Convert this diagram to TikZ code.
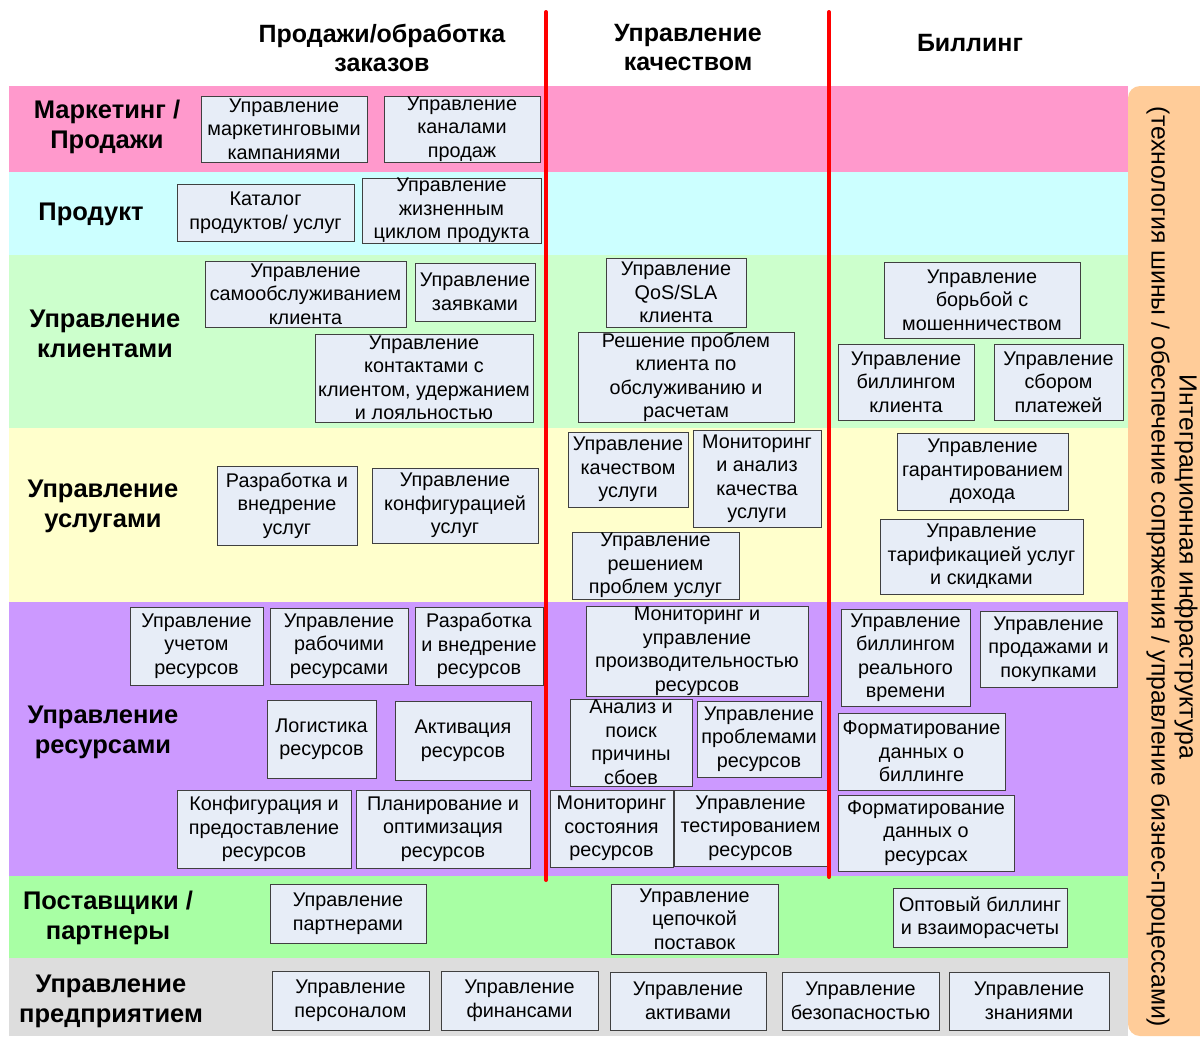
\documentclass[tikz,border=0pt]{standalone}
\usepackage{fontspec}
\setmainfont{Liberation Sans}
\usepackage{tikz}
\usetikzlibrary{positioning}
\definecolor{bandPink}{RGB}{255, 153, 204}
\definecolor{bandCyan}{RGB}{204, 255, 255}
\definecolor{bandMint}{RGB}{204, 255, 204}
\definecolor{bandCream}{RGB}{255, 255, 204}
\definecolor{bandLilac}{RGB}{204, 153, 255}
\definecolor{bandGreen}{RGB}{168, 255, 164}
\definecolor{bandGray}{RGB}{221, 221, 221}
\definecolor{panelOrange}{RGB}{255, 204, 153}
\definecolor{boxFill}{RGB}{231, 237, 247}
\definecolor{boxLine}{RGB}{64, 64, 64}
\begin{document}
\begin{tikzpicture}[
    x=1pt, y=-1pt,
    box/.style={rectangle, draw=boxLine, fill=boxFill, line width=1pt,
                inner sep=0pt, align=center,
                font=\fontsize{19.8}{23.5}\selectfont},
    wh/.style 2 args={minimum width=#1, minimum height=#2},
    rowlabel/.style={align=center, font=\fontsize{25.5}{30}\selectfont\bfseries},
    colhead/.style={align=center, font=\fontsize{25}{29}\selectfont\bfseries},
    divider/.style={line width=4pt, red, line cap=round},
  ]
    \useasboundingbox (0,0) rectangle (1200,1039);

    % Rows: coloured bands
    \foreach \ya/\yb/\col in {86/172/bandPink, 172/255/bandCyan, 255/428/bandMint,
        428/602/bandCream, 602/876/bandLilac, 876/958/bandGreen, 958/1036/bandGray} {
      \fill[\col] (9,\ya) rectangle (1128,\yb);
    }

    % Right: integration panel
    \fill[panelOrange] (1200,86) -- (1140,86) arc[start angle=270, end angle=180, radius=12]
      -- (1128,1024) arc[start angle=180, end angle=90, radius=12] -- (1200,1036) -- cycle;
    \node[rotate=-90, align=center, font=\fontsize{24.8}{28}\selectfont] (intbus) at (1172,567)
      {Интеграционная инфраструктура\\(технология шины / обеспечение сопряжения / управление бизнес-процессами)};

    % Top: column headings
    \node[colhead] (H1) at (382,48) {Продажи/обработка\\заказов};
    \node[colhead] (H2) at (688,48) {Управление\\качеством};
    \node[colhead] (H3) at (970,43) {Биллинг};

    % Left: row labels
    \node[rowlabel] (R1) at (107,127) {Маркетинг /\\Продажи};
    \node[rowlabel] (R2) at (91,214) {Продукт};
    \node[rowlabel] (R3) at (105,334) {Управление\\клиентами};
    \node[rowlabel] (R4) at (103,506) {Управление\\услугами};
    \node[rowlabel] (R5) at (103,732) {Управление\\ресурсами};
    \node[rowlabel] (R6) at (108,918) {Поставщики /\\партнеры};
    \node[rowlabel] (R7) at (111,1001) {Управление\\предприятием};

    % Marketing / sales
    \node[box, wh={166}{66}] (mktcamp) at (284,129) {Управление\\маркетинговыми\\кампаниями};
    \node[box, wh={156}{66}] (chansales) at (462,129) {Управление\\каналами\\продаж};

    % Product
    \node[box, wh={177}{57}] (prodcat) at (265.5,212.5) {Каталог\\продуктов/ услуг};
    \node[box, wh={179}{65}] (prodlife) at (451.5,210.5) {Управление\\жизненным\\циклом продукта};

    % Customer
    \node[box, wh={201}{66}] (selfserv) at (305.5,294) {Управление\\самообслуживанием\\клиента};
    \node[box, wh={120}{58}] (orders) at (475,292) {Управление\\заявками};
    \node[box, wh={218}{88}] (contacts) at (424,378) {Управление\\контактами с\\клиентом, удержанием\\и лояльностью};
    \node[box, wh={140}{69}] (qossla) at (676,292.5) {Управление\\QoS/SLA\\клиента};
    \node[box, wh={216}{87}] (custprob) at (686,377.5) {Решение проблем\\клиента по\\обслуживанию и\\расчетам};
    \node[box, wh={196}{76}] (fraud) at (982,300) {Управление\\борьбой с\\мошенничеством};
    \node[box, wh={136}{76}] (custbill) at (906,382) {Управление\\биллингом\\клиента};
    \node[box, wh={129}{76}] (payments) at (1058.5,382) {Управление\\сбором\\платежей};

    % Service
    \node[box, wh={140}{79}] (svcdev) at (287,505.5) {Разработка и\\внедрение\\услуг};
    \node[box, wh={166}{75}] (svcconf) at (455,505.5) {Управление\\конфигурацией\\услуг};
    \node[box, wh={120}{75}] (svcqual) at (628,469.5) {Управление\\качеством\\услуги};
    \node[box, wh={128}{97}] (svcmon) at (757,478.5) {Мониторинг\\и анализ\\качества\\услуги};
    \node[box, wh={167}{67}] (svcprob) at (655.5,565.5) {Управление\\решением\\проблем услуг};
    \node[box, wh={171}{77}] (revenue) at (982.5,471.5) {Управление\\гарантированием\\дохода};
    \node[box, wh={203}{75}] (rating) at (981.5,556.5) {Управление\\тарификацией услуг\\и скидками};

    % Resource
    \node[box, wh={133}{78}] (resinv) at (196.5,646) {Управление\\учетом\\ресурсов};
    \node[box, wh={138}{76}] (workforce) at (339,646) {Управление\\рабочими\\ресурсами};
    \node[box, wh={128}{78}] (resdev) at (479,646) {Разработка\\и внедрение\\ресурсов};
    \node[box, wh={109}{78}] (logistics) at (321.5,739) {Логистика\\ресурсов};
    \node[box, wh={136}{79}] (activation) at (463,740.5) {Активация\\ресурсов};
    \node[box, wh={174}{78}] (provision) at (264,829) {Конфигурация и\\предоставление\\ресурсов};
    \node[box, wh={174}{78}] (planning) at (443,829) {Планирование и\\оптимизация\\ресурсов};
    \node[box, wh={222}{90}] (perfmon) at (697,651) {Мониторинг и\\управление\\производительностью\\ресурсов};
    \node[box, wh={122}{87}] (rootcause) at (631,742.5) {Анализ и\\поиск\\причины\\сбоев};
    \node[box, wh={124}{76}] (resprob) at (759,739) {Управление\\проблемами\\ресурсов};
    \node[box, wh={123}{77}] (healthmon) at (611.5,828.5) {Мониторинг\\состояния\\ресурсов};
    \node[box, wh={153}{76}] (restest) at (750.5,828) {Управление\\тестированием\\ресурсов};
    \node[box, wh={129}{97}] (rtbill) at (905.5,657.5) {Управление\\биллингом\\реального\\времени};
    \node[box, wh={137}{76}] (salespurch) at (1048.5,649) {Управление\\продажами и\\покупками};
    \node[box, wh={167}{77}] (billfmt) at (921.5,751.5) {Форматирование\\данных о\\биллинге};
    \node[box, wh={176}{76}] (resfmt) at (926,833) {Форматирование\\данных о\\ресурсах};

    % Supplier / partner
    \node[box, wh={156}{59}] (partners) at (348,913.5) {Управление\\партнерами};
    \node[box, wh={167}{70}] (supply) at (694.5,919) {Управление\\цепочкой\\поставок};
    \node[box, wh={174}{59}] (wholesale) at (980,917.5) {Оптовый биллинг\\и взаиморасчеты};

    % Enterprise
    \node[box, wh={157}{59}] (hr) at (350.5,1000.5) {Управление\\персоналом};
    \node[box, wh={157}{59}] (finance) at (519.5,1000.5) {Управление\\финансами};
    \node[box, wh={156}{58}] (assets) at (688,1001) {Управление\\активами};
    \node[box, wh={157}{58}] (security) at (860.5,1001) {Управление\\безопасностью};
    \node[box, wh={160}{58}] (knowledge) at (1029,1001) {Управление\\знаниями};

    % Column dividers
    \coordinate (D1top) at (546,12);
    \coordinate (D1bot) at (546,880);
    \coordinate (D2top) at (829,12);
    \coordinate (D2bot) at (829,877);
    \draw[divider] (D1top) -- (D1bot);
    \draw[divider] (D2top) -- (D2bot);
  \end{tikzpicture}
\end{document}
